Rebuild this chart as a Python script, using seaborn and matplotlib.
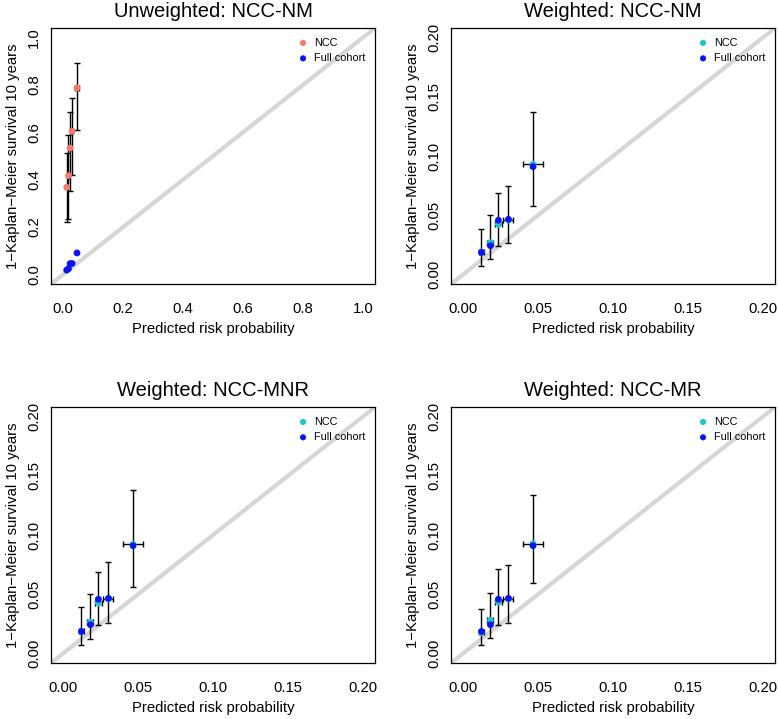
import numpy as np
import pandas as pd
import seaborn as sns
import matplotlib
matplotlib.use("Agg")
import matplotlib.pyplot as plt

# predicted risk (same five risk groups in every panel)
pred = [0.0123, 0.0183, 0.0236, 0.0303, 0.0467]
pred_lo = [0.0107, 0.0163, 0.0213, 0.0268, 0.0398]
pred_hi = [0.0140, 0.0203, 0.0260, 0.0336, 0.0535]

# full cohort observed risk
full_obs = [0.0186, 0.0243, 0.0458, 0.0466, 0.0910]

# NCC observed risk with CI, one set per panel
unw_obs = [0.368, 0.417, 0.533, 0.604, 0.787]
unw_lo = [0.222, 0.234, 0.352, 0.418, 0.610]
unw_hi = [0.512, 0.589, 0.684, 0.746, 0.891]

nm_obs = [0.0190, 0.0270, 0.0424, 0.0460, 0.0930]
nm_lo = [0.0076, 0.0127, 0.0240, 0.0265, 0.0580]
nm_hi = [0.0387, 0.0500, 0.0690, 0.0749, 0.1370]

mnr_obs = [0.0186, 0.0265, 0.0426, 0.0460, 0.0920]
mnr_lo = [0.0068, 0.0125, 0.0243, 0.0260, 0.0560]
mnr_hi = [0.0392, 0.0500, 0.0684, 0.0769, 0.1380]

mr_obs = [0.0178, 0.0280, 0.0435, 0.0460, 0.0926]
mr_lo = [0.0070, 0.0130, 0.0237, 0.0260, 0.0596]
mr_hi = [0.0379, 0.0514, 0.0715, 0.0748, 0.1339]

PINK = "#F7786F"
CYAN = "#1CC6CC"
BLUE = "#0A14F5"
FONT = ["Liberation Sans", "DejaVu Sans"]


def calib_panel(ax, title, obs, lo, hi, ncc_color, lim, ticks, fmt):
    df = pd.DataFrame({"pred": pred, "obs": obs, "full": full_obs})

    ax.axline((0, 0), slope=1, color="#D6D6D6", lw=3, zorder=1)

    ax.errorbar(df["pred"], df["obs"],
                yerr=[np.array(obs) - np.array(lo), np.array(hi) - np.array(obs)],
                xerr=[np.array(pred) - np.array(pred_lo), np.array(pred_hi) - np.array(pred)],
                fmt="none", ecolor="black", elinewidth=1.0, capsize=2.3,
                capthick=1.0, zorder=2)

    sns.scatterplot(data=df, x="pred", y="obs", color=ncc_color, s=24,
                    edgecolor="none", label="NCC", ax=ax, zorder=3)
    sns.scatterplot(data=df, x="pred", y="full", color=BLUE, s=24,
                    edgecolor="none", label="Full cohort", ax=ax, zorder=4)

    pad = (lim[1] - lim[0]) * 0.04
    ax.set_xlim(lim[0] - pad, lim[1] + pad)
    ax.set_ylim(lim[0] - pad, lim[1] + pad)
    ax.set_xticks(ticks)
    ax.set_yticks(ticks)
    ax.set_xticklabels([fmt.format(t) for t in ticks])
    ax.set_yticklabels([fmt.format(t) for t in ticks])
    plt.setp(ax.get_yticklabels(), rotation=90, va="center")

    ax.tick_params(direction="out", length=5, width=0.9,
                   labelsize=10.7, color="black", labelcolor="black")
    ax.tick_params(axis="x", pad=8)
    ax.tick_params(axis="y", pad=2)
    for sp in ax.spines.values():
        sp.set_visible(True)
        sp.set_color("black")
        sp.set_linewidth(0.9)

    ax.set_title(title, fontsize=14.5, pad=8, color="black")
    ax.set_xlabel("Predicted risk probability", fontsize=10.7, labelpad=4,
                  color="black")
    ax.set_ylabel("1\u2212Kaplan\u2212Meier survival 10 years", fontsize=10.7,
                  labelpad=5, color="black")

    leg = ax.legend(loc="upper right", frameon=False, fontsize=7.8,
                    handlelength=0.6, handletextpad=0.7, labelspacing=0.5,
                    borderaxespad=0.5, markerscale=0.9)
    for t in leg.get_texts():
        t.set_color("black")


def main():
    sns.set_style("white")
    plt.rcParams["font.family"] = FONT
    plt.rcParams["text.color"] = "black"

    fig = plt.figure(figsize=(7.78, 7.19), dpi=100)
    w, h = 324 / 778, 256 / 719
    ax1 = fig.add_axes([51 / 778, 1 - 284 / 719, w, h])
    ax2 = fig.add_axes([451 / 778, 1 - 284 / 719, w, h])
    ax3 = fig.add_axes([51 / 778, 1 - 663 / 719, w, h])
    ax4 = fig.add_axes([451 / 778, 1 - 663 / 719, w, h])

    big = [0.0, 0.2, 0.4, 0.6, 0.8, 1.0]
    small = [0.0, 0.05, 0.10, 0.15, 0.20]

    calib_panel(ax1, "Unweighted: NCC-NM", unw_obs, unw_lo, unw_hi, PINK,
                (0, 1), big, "{:.1f}")
    calib_panel(ax2, "Weighted: NCC-NM", nm_obs, nm_lo, nm_hi, CYAN,
                (0, 0.2), small, "{:.2f}")
    calib_panel(ax3, "Weighted: NCC-MNR", mnr_obs, mnr_lo, mnr_hi, CYAN,
                (0, 0.2), small, "{:.2f}")
    calib_panel(ax4, "Weighted: NCC-MR", mr_obs, mr_lo, mr_hi, CYAN,
                (0, 0.2), small, "{:.2f}")

    fig.savefig("out.png", dpi=100)


if __name__ == "__main__":
    main()
